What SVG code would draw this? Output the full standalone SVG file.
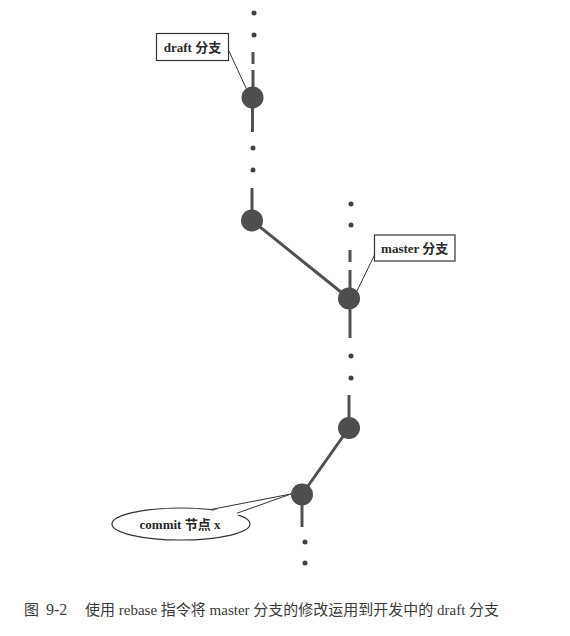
<svg xmlns="http://www.w3.org/2000/svg" width="570" height="636" viewBox="0 0 570 636">
<style>
.ln{stroke:#505050;stroke-width:3;fill:none}
.dot{fill:#404040}
.node{fill:#4e4e4e}
.lead{stroke:#333;stroke-width:1;fill:none}
.box{fill:#fff;stroke:#333;stroke-width:1.2}
.lbl{font-family:"Liberation Serif","Noto Sans CJK SC",serif;font-weight:bold;font-size:13px;fill:#2a2a2a}
.cap{font-family:"Liberation Serif","Noto Sans CJK SC",serif;font-size:15px;fill:#3a3a3a}
</style>
<rect width="570" height="636" fill="#fff"/>
<g id="connectors">
  <circle class="dot" cx="254" cy="13" r="2.5"/>
  <circle class="dot" cx="254" cy="35" r="2.5"/>
  <line class="ln" x1="253" y1="52" x2="253" y2="64"/>
  <line class="ln" x1="253" y1="70" x2="253" y2="90"/>
  <line class="ln" x1="252.5" y1="98" x2="252.5" y2="132"/>
  <circle class="dot" cx="253" cy="148" r="2.5"/>
  <circle class="dot" cx="253" cy="170" r="2.5"/>
  <line class="ln" x1="252" y1="188" x2="252" y2="215"/>
  <line class="ln" x1="252" y1="220.5" x2="349" y2="298.5"/>
  <circle class="dot" cx="351" cy="204" r="2.5"/>
  <circle class="dot" cx="351" cy="225" r="2.5"/>
  <line class="ln" x1="350" y1="250" x2="350" y2="262"/>
  <line class="ln" x1="350" y1="270" x2="350" y2="290"/>
  <line class="ln" x1="350" y1="298" x2="350" y2="338"/>
  <circle class="dot" cx="351" cy="356" r="2.5"/>
  <circle class="dot" cx="351" cy="378" r="2.5"/>
  <line class="ln" x1="349" y1="395" x2="349" y2="420"/>
  <line class="ln" x1="349" y1="428" x2="302" y2="494.5"/>
  <line class="ln" x1="302" y1="494" x2="302" y2="527"/>
  <circle class="dot" cx="305" cy="542" r="2.5"/>
  <circle class="dot" cx="305" cy="563" r="2.5"/>
</g>
<g id="node-draft1"><circle class="node" cx="252.5" cy="97.5" r="11"/></g>
<g id="node-draft2"><circle class="node" cx="252" cy="220.5" r="11"/></g>
<g id="node-master"><circle class="node" cx="349" cy="298.5" r="11"/></g>
<g id="node-master2"><circle class="node" cx="349" cy="428" r="11"/></g>
<g id="node-x"><circle class="node" cx="302" cy="494.5" r="11"/></g>
<g id="label-draft">
  <line class="lead" x1="228.5" y1="50" x2="246" y2="88"/>
  <rect class="box" x="156.5" y="33.5" width="72" height="27"/>
  <text class="lbl" x="192.5" y="51.5" text-anchor="middle">draft 分支</text>
</g>
<g id="label-master">
  <line class="lead" x1="374.5" y1="255" x2="357" y2="291"/>
  <rect class="box" x="374.5" y="235" width="80.5" height="26"/>
  <text class="lbl" x="414.7" y="252.5" text-anchor="middle">master 分支</text>
</g>
<g id="label-commit">
  <ellipse cx="181" cy="524" rx="69" ry="16" fill="#fff" stroke="#333" stroke-width="1.2"/>
  <polygon points="213,510.5 291,494 236,516" fill="#fff"/>
  <polyline points="212,509.3 291,494 237,513.2" fill="none" stroke="#333" stroke-width="1"/>
  <text class="lbl" x="180" y="528.5" text-anchor="middle">commit 节点 x</text>
</g>
<text class="cap" x="24" y="615">图<tspan x="46" font-size="16">9-2</tspan><tspan x="85">使用 rebase 指令将 master 分支的修改运用到开发中的 draft 分支</tspan></text>
</svg>
